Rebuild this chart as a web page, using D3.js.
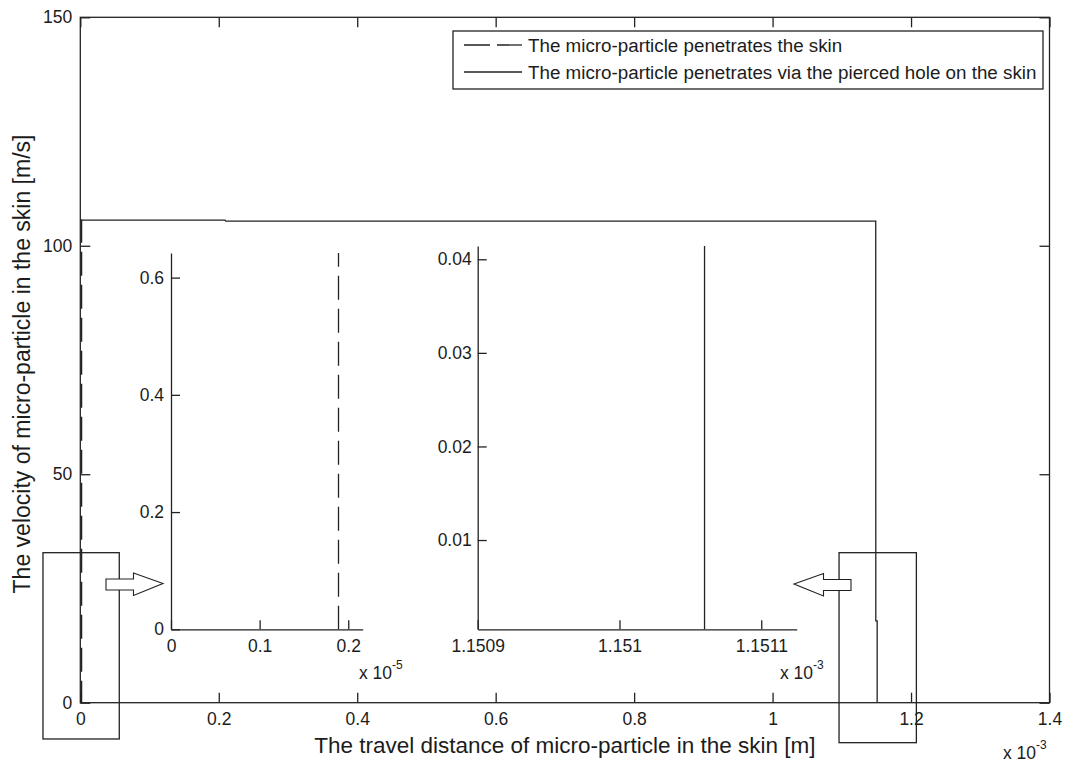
<!DOCTYPE html>
<html>
<head>
<meta charset="utf-8">
<script src="https://cdn.jsdelivr.net/npm/d3@7"></script>
<style>
  body { margin: 0; background: #fff; }
  svg { display: block; }
  text { font-family: "Liberation Sans", Arial, sans-serif; fill: #1c1c1c; }
</style>
</head>
<body>
<script>
    // Data (distance in units of 10^-3 m, velocity in m/s)
    var distSolid = [0, 0.209, 0.210, 1.1490, 1.1491, 1.15106, 1.15106];
    var velSolid = [105.6, 105.6, 105.4, 105.4, 17.9, 17.9, 0];

    var distDashed = [0, 0.00189, 0.00189];
    var velDashed = [105.6, 105.6, 0];

    var seriesNames = ["The micro-particle penetrates the skin",
                       "The micro-particle penetrates via the pierced hole on the skin"];

    // Tick values and labels
    var mainXTicks = [0, 0.2, 0.4, 0.6, 0.8, 1.0, 1.2, 1.4];
    var mainXLabels = ["0", "0.2", "0.4", "0.6", "0.8", "1", "1.2", "1.4"];
    var mainYTicks = [0, 50, 100, 150];
    var mainYLabels = ["0", "50", "100", "150"];

    var in1XTicks = [0, 0.001, 0.002];
    var in1XLabels = ["0", "0.1", "0.2"];
    var in1YTicks = [0, 0.2, 0.4, 0.6];
    var in1YLabels = ["0", "0.2", "0.4", "0.6"];

    var in2XTicks = [1.1509, 1.1510, 1.1511];
    var in2XLabels = ["1.1509", "1.151", "1.1511"];
    var in2YTicks = [0.01, 0.02, 0.03, 0.04];
    var in2YLabels = ["0.01", "0.02", "0.03", "0.04"];

    // zoom boxes drawn on the main axes: [x0, x1, yTop, yBottom] in data units
    var zoomBoxes = [[-0.0539, 0.0563, 32.83, -7.94], [1.0960, 1.2077, 32.83, -8.75]];

    function init() {
        var w = 1067;
        var h = 763;
        var ink = "#222";

        var svg = d3.select("body").append("svg")
            .attr("width", w)
            .attr("height", h);

        svg.append("rect").attr("width", w).attr("height", h).attr("fill", "#fff");

        var defs = svg.append("defs");

        function zip(xs, ys) {
            return xs.map(function(x, i) { return [x, ys[i]]; });
        }
        var solid = zip(distSolid, velSolid);
        var dashed = zip(distDashed, velDashed);

        // Main scales
        var xMain = d3.scaleLinear().domain([0, 1.4]).range([80.3, 1049.5]);
        var yMain = d3.scaleLinear().domain([0, 150]).range([702.7, 17.3]);

        function labeler(ticks, labels) {
            return function(d) {
                var i = ticks.indexOf(d);
                return i < 0 ? "" : labels[i];
            };
        }

        function styleAxis(g, fs) {
            g.selectAll("path.domain").attr("stroke", ink).attr("stroke-width", 1.3);
            g.selectAll(".tick line").attr("stroke", ink).attr("stroke-width", 1.3);
            g.selectAll(".tick text").attr("fill", "#1c1c1c")
                .style("font-size", fs + "px")
                .style("font-family", '"Liberation Sans", Arial, sans-serif');
        }

        // main lines (under the frame)
        defs.append("clipPath").attr("id", "clipMain").append("rect")
            .attr("x", xMain(0)).attr("y", yMain(150))
            .attr("width", xMain(1.4) - xMain(0))
            .attr("height", yMain(0) - yMain(150));

        var lineMain = d3.line()
            .x(function(d) { return xMain(d[0]); })
            .y(function(d) { return yMain(d[1]); });

        var gMain = svg.append("g").attr("clip-path", "url(#clipMain)");
        gMain.append("path").attr("d", lineMain(dashed))
            .attr("fill", "none").attr("stroke", ink).attr("stroke-width", 1.3)
            .attr("stroke-dasharray", "24,9");
        gMain.append("path").attr("d", lineMain(solid))
            .attr("fill", "none").attr("stroke", ink).attr("stroke-width", 1.3);

        // Main axes: inward ticks on all four sides
        var gx = svg.append("g").attr("transform", "translate(0," + yMain(0) + ")")
            .call(d3.axisBottom(xMain).tickValues(mainXTicks).tickSizeInner(-10)
                .tickSizeOuter(0).tickPadding(10).tickFormat(labeler(mainXTicks, mainXLabels)));
        styleAxis(gx, 17.5);
        gx.select("path.domain").remove();

        var gxTop = svg.append("g").attr("transform", "translate(0," + yMain(150) + ")")
            .call(d3.axisTop(xMain).tickValues(mainXTicks).tickSizeInner(-10)
                .tickSizeOuter(0).tickFormat(""));
        styleAxis(gxTop, 17.5);
        gxTop.select("path.domain").remove();

        var gy = svg.append("g").attr("transform", "translate(" + xMain(0) + ",0)")
            .call(d3.axisLeft(yMain).tickValues(mainYTicks).tickSizeInner(-10)
                .tickSizeOuter(0).tickPadding(8).tickFormat(labeler(mainYTicks, mainYLabels)));
        styleAxis(gy, 17.5);
        gy.select("path.domain").remove();

        var gyRight = svg.append("g").attr("transform", "translate(" + xMain(1.4) + ",0)")
            .call(d3.axisRight(yMain).tickValues(mainYTicks).tickSizeInner(-10)
                .tickSizeOuter(0).tickFormat(""));
        styleAxis(gyRight, 17.5);
        gyRight.select("path.domain").remove();

        // box
        svg.append("rect")
            .attr("x", xMain(0)).attr("y", yMain(150))
            .attr("width", xMain(1.4) - xMain(0))
            .attr("height", yMain(0) - yMain(150))
            .attr("fill", "none").attr("stroke", ink).attr("stroke-width", 1.3);

        // axis titles
        svg.append("text")
            .attr("x", (xMain(0) + xMain(1.4)) / 2)
            .attr("y", 753)
            .attr("text-anchor", "middle")
            .style("font-size", "22.5px")
            .text("The travel distance of micro-particle in the skin [m]");

        svg.append("text")
            .attr("transform", "translate(30," + ((yMain(0) + yMain(150)) / 2 + 4) + ") rotate(-90)")
            .attr("text-anchor", "middle")
            .style("font-size", "23px")
            .text("The velocity of micro-particle in the skin [m/s]");

        // exponent labels
        function expLabel(x, y, exp) {
            var t = svg.append("text").attr("x", x).attr("y", y).style("font-size", "17.5px");
            t.append("tspan").text("x 10");
            t.append("tspan").attr("dy", -10).style("font-size", "12px").text(exp);
        }
        expLabel(1003, 759, "-3");

        // zoom boxes
        svg.selectAll("rect.zoombox")
            .data(zoomBoxes)
            .enter()
            .append("rect")
            .attr("class", "zoombox")
            .attr("x", function(d) { return xMain(d[0]); })
            .attr("y", function(d) { return yMain(d[2]); })
            .attr("width", function(d) { return xMain(d[1]) - xMain(d[0]); })
            .attr("height", function(d) { return yMain(d[3]) - yMain(d[2]); })
            .attr("fill", "none").attr("stroke", ink).attr("stroke-width", 1.3);

        // arrows (block arrows pointing at the insets)
        var arrowRight = [[106, 579], [133.5, 579], [133.5, 573], [163, 583.5],
                          [133.5, 595.5], [133.5, 590], [106, 590]];
        var arrowLeft = arrowRight.map(function(p) { return [957 - p[0], p[1] + 0.5]; });
        [arrowRight, arrowLeft].forEach(function(pts) {
            svg.append("polygon")
                .attr("points", pts.map(function(p) { return p.join(","); }).join(" "))
                .attr("fill", "#fff").attr("stroke", ink).attr("stroke-width", 1.1);
        });

        // legend
        var leg = svg.append("g");
        leg.append("rect")
            .attr("x", 453).attr("y", 31).attr("width", 590).attr("height", 58)
            .attr("fill", "#fff").attr("stroke", ink).attr("stroke-width", 1.3);
        var legRows = leg.selectAll("g.row")
            .data(seriesNames)
            .enter()
            .append("g")
            .attr("class", "row")
            .attr("transform", function(d, i) { return "translate(0," + (45 + i * 27) + ")"; });
        legRows.append("line")
            .attr("x1", 464).attr("x2", 522)
            .attr("stroke", ink).attr("stroke-width", 1.3)
            .attr("stroke-dasharray", function(d, i) { return i === 0 ? "26,7" : null; });
        legRows.append("text")
            .attr("x", 528).attr("dy", "0.35em")
            .style("font-size", "18.8px")
            .text(function(d) { return d; });

        // insets
        function drawInset(cfg) {
            var x = d3.scaleLinear().domain(cfg.xDomain).range(cfg.xRange);
            var y = d3.scaleLinear().domain(cfg.yDomain).range(cfg.yRange);
            var g = svg.append("g");

            var ax = g.append("g").attr("transform", "translate(0," + cfg.yRange[0] + ")")
                .call(d3.axisBottom(x).tickValues(cfg.xTicks).tickSizeInner(-9)
                    .tickSizeOuter(0).tickPadding(10).tickFormat(labeler(cfg.xTicks, cfg.xLabels)));
            styleAxis(ax, 17.5);

            var ay = g.append("g").attr("transform", "translate(" + cfg.xRange[0] + ",0)")
                .call(d3.axisLeft(y).tickValues(cfg.yTicks).tickSizeInner(-9)
                    .tickSizeOuter(0).tickPadding(cfg.yPad).tickFormat(labeler(cfg.yTicks, cfg.yLabels)));
            styleAxis(ay, 17.5);

            defs.append("clipPath").attr("id", cfg.id).append("rect")
                .attr("x", cfg.xRange[0]).attr("y", cfg.yRange[1])
                .attr("width", cfg.xRange[1] - cfg.xRange[0])
                .attr("height", cfg.yRange[0] - cfg.yRange[1]);

            var line = d3.line()
                .x(function(d) { return x(d[0]); })
                .y(function(d) { return y(d[1]); });

            g.append("path")
                .attr("clip-path", "url(#" + cfg.id + ")")
                .attr("d", line(cfg.data))
                .attr("fill", "none").attr("stroke", ink).attr("stroke-width", 1.3)
                .attr("stroke-dasharray", cfg.dash);

            expLabel(cfg.expX, 679, cfg.exp);
        }

        drawInset({
            id: "clipIn1",
            xDomain: [0, 0.002163], xRange: [171, 362.7],
            yDomain: [0, 0.642], yRange: [629.3, 253],
            xTicks: in1XTicks, xLabels: in1XLabels,
            yTicks: in1YTicks, yLabels: in1YLabels, yPad: 7,
            data: dashed, dash: "24,9",
            expX: 359, exp: "-5"
        });

        drawInset({
            id: "clipIn2",
            xDomain: [1.1509, 1.151125], xRange: [477.7, 796.7],
            yDomain: [0.00046, 0.04142], yRange: [629.3, 246],
            xTicks: in2XTicks, xLabels: in2XLabels,
            yTicks: in2YTicks, yLabels: in2YLabels, yPad: 6,
            data: solid, dash: null,
            expX: 780, exp: "-3"
        });
    }

    window.onload = init;
</script>
</body>
</html>
